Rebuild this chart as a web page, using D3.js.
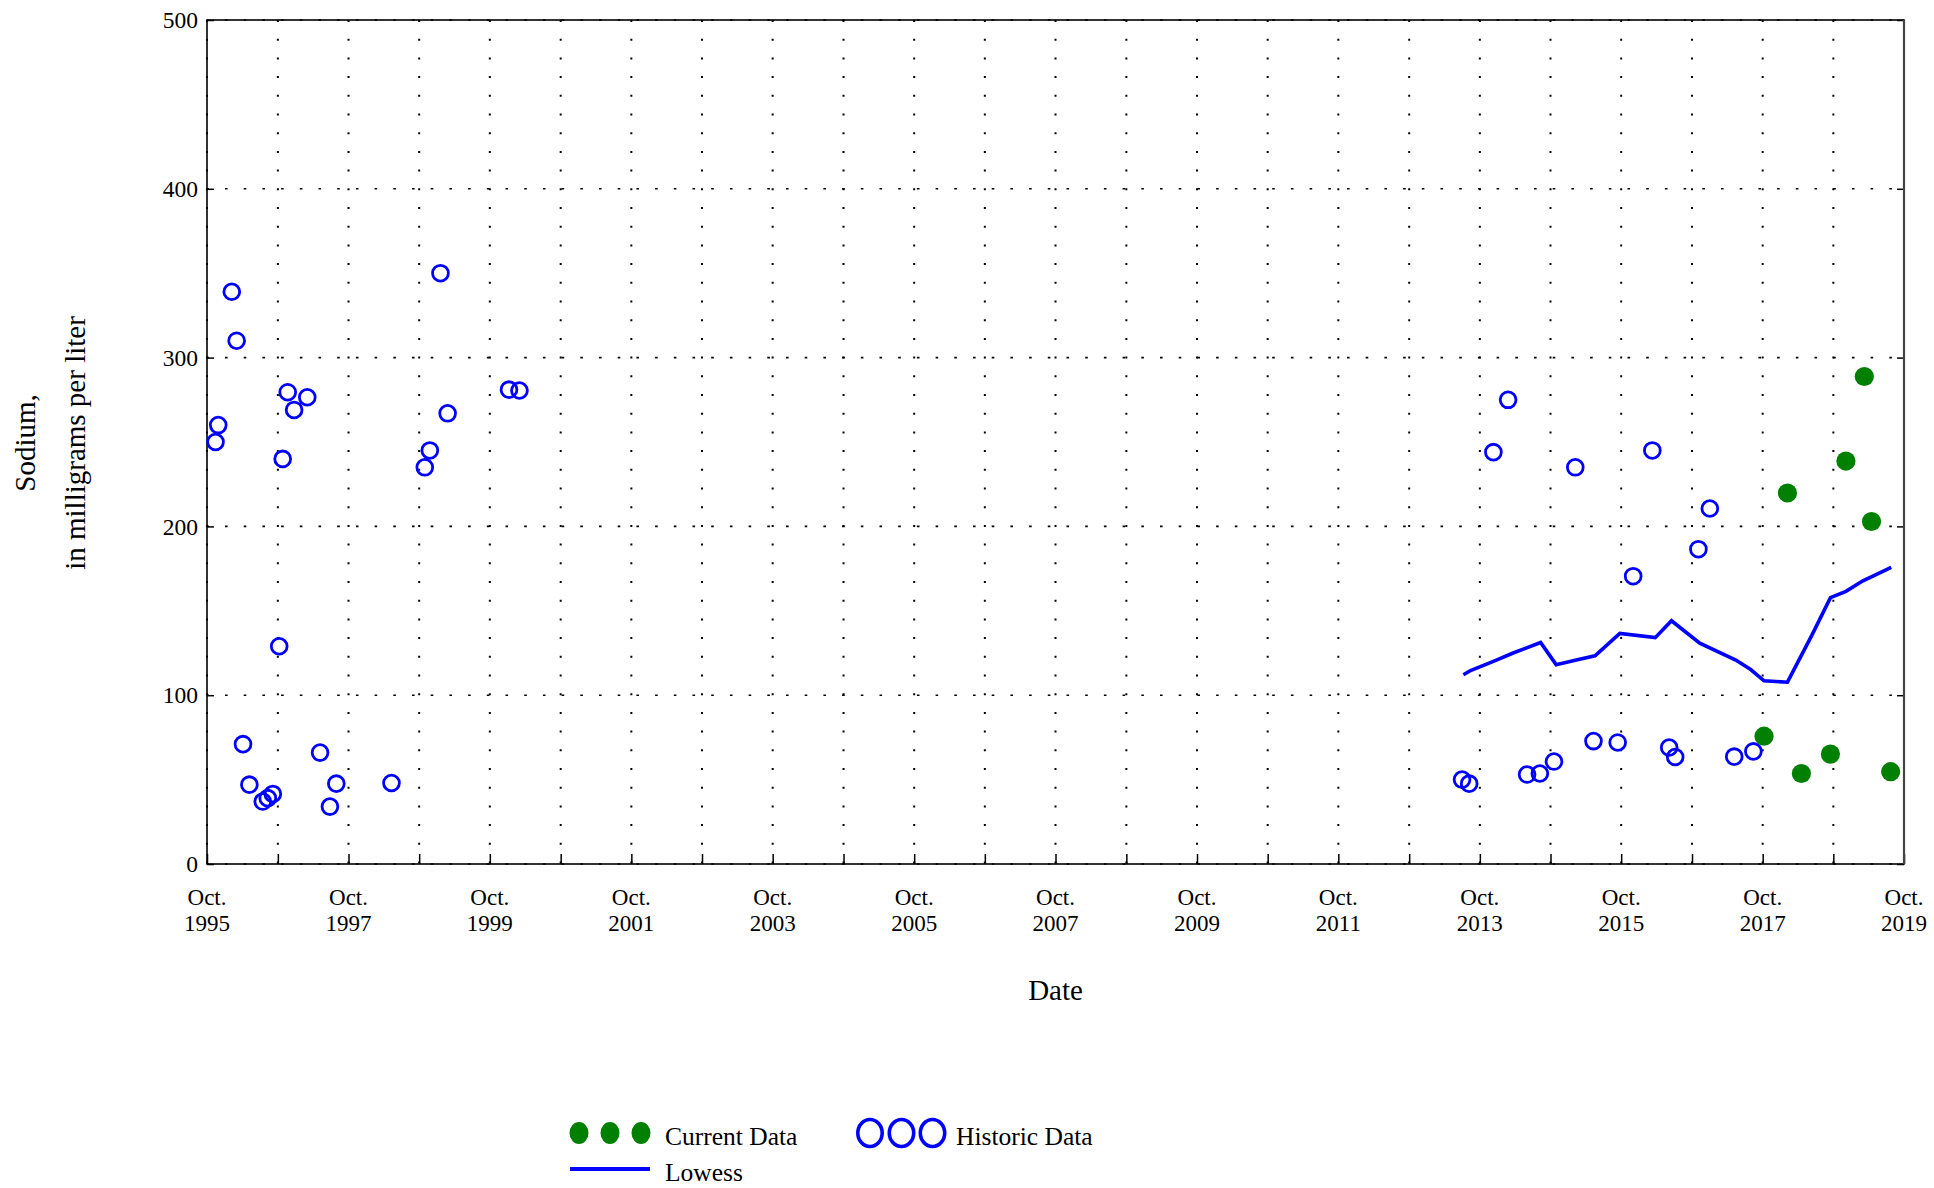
<!DOCTYPE html>
<html>
<head>
<meta charset="utf-8">
<script src="https://cdn.jsdelivr.net/npm/d3@7"></script>
<style>
  html, body { margin: 0; padding: 0; background: #fff; }
  svg { display: block; }
  svg text { font-family: "Liberation Serif", "Times New Roman", serif; fill: #000; }
</style>
</head>
<body>
<svg id="chart" width="1934" height="1188"></svg>
<script>
// ---- Data ----
const historicDates = [
  "1995-11-14","1995-11-28","1996-02-06","1996-03-02","1996-04-04","1996-05-07",
  "1996-07-15","1996-08-10","1996-09-05","1996-10-08","1996-10-26","1996-11-21",
  "1996-12-24","1997-03-02","1997-05-07","1997-06-27","1997-07-30","1998-05-11",
  "1998-10-30","1998-11-25","1999-01-19","1999-02-25","2000-01-08","2000-03-02",
  "2013-07-01","2013-08-07","2013-12-10","2014-02-24","2014-06-02","2014-08-07",
  "2014-10-19","2015-02-06","2015-05-11","2015-09-13","2015-12-02","2016-03-10",
  "2016-06-05","2016-07-06","2016-11-03","2017-01-01","2017-05-07","2017-08-14"
];
const historicValues = [
  250, 260, 339, 310, 71, 47,
  37, 39, 41.5, 129, 240, 279.5,
  269, 276.5, 66, 34, 47.6, 48,
  235, 245, 350, 267, 281, 280.5,
  50, 47.6, 244, 275, 53, 53.6,
  60.7, 235, 72.8, 72, 170.5, 245,
  69, 63.4, 186.5, 210.6, 63.6, 66.7
];
const currentDates = [
  "2017-10-08","2018-02-06","2018-04-19","2018-09-16",
  "2018-12-05","2019-03-10","2019-04-16","2019-07-24"
];
const currentValues = [75.7, 219.8, 53.6, 65.1, 238.7, 288.8, 202.9, 54.7];

const lowessDates = [
  "2013-07-08","2013-08-14","2013-12-13","2014-03-22","2014-08-11","2014-10-30",
  "2015-02-17","2015-05-19","2015-09-24","2016-03-25","2016-06-17","2016-11-10",
  "2017-05-15","2017-07-31","2017-10-08","2018-02-06","2018-06-13","2018-09-16",
  "2018-12-05","2019-03-03","2019-07-27"
];
const lowessValues = [
  112.1, 114.6, 120.2, 125.0, 131.2, 118.1,
  121.0, 123.3, 136.6, 134.1, 144.1, 130.8,
  120.8, 115.2, 108.5, 107.7, 135.7, 157.8,
  161.5, 167.8, 175.7
];

const yTicks = [0, 100, 200, 300, 400, 500];
const xDomain = ["1995-10-01", "2019-10-01"];
const xLabelYears = [1995, 1997, 1999, 2001, 2003, 2005, 2007, 2009, 2011, 2013, 2015, 2017, 2019];
const xTickMonthLabel = "Oct.";
const xTitle = "Date";
const yTitleLines = ["Sodium,", "in milligrams per liter"];
const legendLabels = ["Current Data", "Historic Data", "Lowess"];

// ---- Layout ----
const W = 1934, H = 1188;
const margin = { left: 207, top: 20, right: 30, bottom: 324 };
const pw = W - margin.left - margin.right;
const ph = H - margin.top - margin.bottom;
const parse = d3.timeParse("%Y-%m-%d");

const svg = d3.select("#chart");
const g = svg.append("g").attr("transform", `translate(${margin.left},${margin.top})`);

const x = d3.scaleTime().domain(xDomain.map(parse)).range([0, pw]);
const y = d3.scaleLinear().domain([0, 500]).range([ph, 0]);

const yearTicks = d3.range(1995, 2020).map(yr => new Date(yr, 9, 1));

// grid
g.append("g").selectAll("line").data(yearTicks).join("line")
  .attr("x1", d => x(d)).attr("x2", d => x(d))
  .attr("y1", 0).attr("y2", ph)
  .attr("stroke", "#000").attr("stroke-width", 2)
  .attr("stroke-dasharray", "2,16.7");
g.append("g").selectAll("line").data(yTicks).join("line")
  .attr("x1", 0).attr("x2", pw)
  .attr("y1", d => y(d)).attr("y2", d => y(d))
  .attr("stroke", "#000").attr("stroke-width", 1.6)
  .attr("stroke-dasharray", "2.6,16.1")
  .attr("stroke-dashoffset", -18);

// axes (d3 axes, inner ticks)
const xAxis = g.append("g").attr("transform", `translate(0,${ph})`)
  .call(d3.axisBottom(x).tickValues(yearTicks).tickSize(-10).tickFormat(""));
xAxis.select(".domain").remove();
xAxis.selectAll(".tick line").attr("stroke", "#000").attr("stroke-width", 1.5);

const yAxis = g.append("g")
  .call(d3.axisLeft(y).tickValues(yTicks).tickSize(-7).tickFormat(""));
yAxis.select(".domain").remove();
yAxis.selectAll(".tick line").attr("stroke", "#000").attr("stroke-width", 1.5);

const yAxisR = g.append("g").attr("transform", `translate(${pw},0)`)
  .call(d3.axisRight(y).tickValues(yTicks).tickSize(-7).tickFormat(""));
yAxisR.select(".domain").remove();
yAxisR.selectAll(".tick line").attr("stroke", "#000").attr("stroke-width", 1.5);

// y tick labels
g.append("g").selectAll("text").data(yTicks).join("text")
  .attr("x", -9).attr("y", d => y(d)).attr("dy", "0.35em")
  .attr("text-anchor", "end").style("font-size", "23.5px")
  .text(d => d3.format("d")(d));

// frame
g.append("rect").attr("x", 0).attr("y", 0).attr("width", pw).attr("height", ph)
  .attr("fill", "none").attr("stroke", "#000").attr("stroke-width", 1.6);
g.append("line").attr("x1", pw).attr("x2", pw).attr("y1", 0).attr("y2", ph)
  .attr("stroke", "#444").attr("stroke-width", 2.2);

// x tick labels
const xl = g.append("g").selectAll("g").data(xLabelYears).join("g")
  .attr("transform", d => `translate(${x(new Date(d, 9, 1))},0)`);
xl.append("text").attr("y", ph + 41).attr("text-anchor", "middle")
  .style("font-size", "23px").text(xTickMonthLabel);
xl.append("text").attr("y", ph + 67).attr("text-anchor", "middle")
  .style("font-size", "23px").text(d => d);

// titles
svg.append("text").attr("x", margin.left + pw / 2).attr("y", 1000)
  .attr("text-anchor", "middle").style("font-size", "29px").text(xTitle);
svg.append("text").attr("transform", "translate(35,443) rotate(-90)")
  .attr("text-anchor", "middle").style("font-size", "29px").text(yTitleLines[0]);
svg.append("text").attr("transform", "translate(85,443) rotate(-90)")
  .attr("text-anchor", "middle").style("font-size", "29px").text(yTitleLines[1]);

// data
const historic = historicDates.map((d, i) => ({ date: parse(d), value: historicValues[i] }));
const current = currentDates.map((d, i) => ({ date: parse(d), value: currentValues[i] }));
const lowess = lowessDates.map((d, i) => ({ date: parse(d), value: lowessValues[i] }));

g.append("path").datum(lowess)
  .attr("d", d3.line().x(d => x(d.date)).y(d => y(d.value)))
  .attr("fill", "none").attr("stroke", "#0000ff").attr("stroke-width", 3.6)
  .attr("stroke-linejoin", "miter");

g.append("g").selectAll("circle").data(historic).join("circle")
  .attr("cx", d => x(d.date)).attr("cy", d => y(d.value)).attr("r", 7.9)
  .attr("fill", "none").attr("stroke", "#0000ff").attr("stroke-width", 2.8);

g.append("g").selectAll("circle").data(current).join("circle")
  .attr("cx", d => x(d.date)).attr("cy", d => y(d.value)).attr("r", 9.6)
  .attr("fill", "#008000");

// legend
const lg = svg.append("g");
[579, 610, 641].forEach(cx => {
  lg.append("ellipse").attr("cx", cx).attr("cy", 1133).attr("rx", 9.5).attr("ry", 11)
    .attr("fill", "#008000");
});
lg.append("text").attr("x", 665).attr("y", 1145).style("font-size", "25.5px").text(legendLabels[0]);
[870, 901.5, 932.5].forEach(cx => {
  lg.append("ellipse").attr("cx", cx).attr("cy", 1133).attr("rx", 12.2).attr("ry", 13.5)
    .attr("fill", "none").attr("stroke", "#0000ff").attr("stroke-width", 3.6);
});
lg.append("text").attr("x", 956).attr("y", 1145).style("font-size", "25.5px").text(legendLabels[1]);
lg.append("line").attr("x1", 570).attr("x2", 650).attr("y1", 1169).attr("y2", 1169)
  .attr("stroke", "#0000ff").attr("stroke-width", 4);
lg.append("text").attr("x", 665).attr("y", 1181).style("font-size", "25.5px").text(legendLabels[2]);
</script>
</body>
</html>
